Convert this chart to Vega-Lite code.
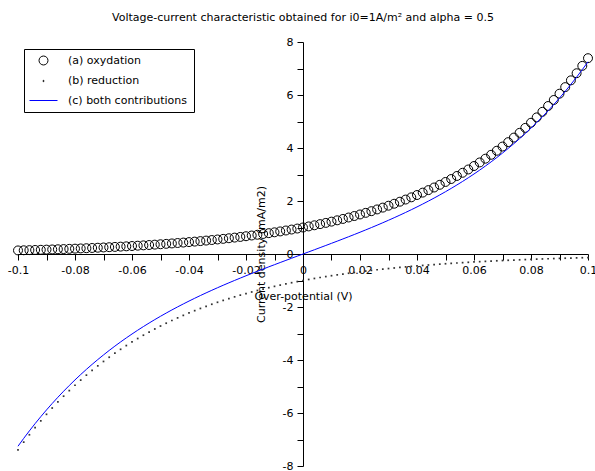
{
"$schema": "https://vega.github.io/schema/vega-lite/v6.json",
"width": 570, "height": 424,
"autosize": {"type": "none"},
"padding": {"left": 18, "top": 42, "right": 7, "bottom": 5},
"background": "white",
"title": {"text": "Voltage-current characteristic obtained for i0=1A/m² and alpha = 0.5", "font": "DejaVu Sans", "fontSize": 11, "fontWeight": "normal", "color": "black", "anchor": "middle", "offset": 13},
"config": {"view": {"stroke": null}, "font": "DejaVu Sans"},
"data": {"values": [
{"v":-0.1,"a":0.1353,"b":-7.3891,"c":-7.2538},
{"v":-0.098,"a":0.1409,"b":-7.0993,"c":-6.9584},
{"v":-0.096,"a":0.1466,"b":-6.8210,"c":-6.6744},
{"v":-0.094,"a":0.1526,"b":-6.5535,"c":-6.4009},
{"v":-0.092,"a":0.1588,"b":-6.2965,"c":-6.1377},
{"v":-0.09,"a":0.1653,"b":-6.0496,"c":-5.8843},
{"v":-0.088,"a":0.1720,"b":-5.8124,"c":-5.6404},
{"v":-0.086,"a":0.1791,"b":-5.5845,"c":-5.4054},
{"v":-0.084,"a":0.1864,"b":-5.3656,"c":-5.1792},
{"v":-0.082,"a":0.1940,"b":-5.1552,"c":-4.9612},
{"v":-0.08,"a":0.2019,"b":-4.9530,"c":-4.7511},
{"v":-0.078,"a":0.2101,"b":-4.7588,"c":-4.5487},
{"v":-0.076,"a":0.2187,"b":-4.5722,"c":-4.3535},
{"v":-0.074,"a":0.2276,"b":-4.3929,"c":-4.1653},
{"v":-0.072,"a":0.2369,"b":-4.2207,"c":-3.9838},
{"v":-0.07,"a":0.2466,"b":-4.0552,"c":-3.8086},
{"v":-0.068,"a":0.2567,"b":-3.8962,"c":-3.6395},
{"v":-0.066,"a":0.2671,"b":-3.7434,"c":-3.4763},
{"v":-0.064,"a":0.2780,"b":-3.5966,"c":-3.3186},
{"v":-0.062,"a":0.2894,"b":-3.4556,"c":-3.1662},
{"v":-0.06,"a":0.3012,"b":-3.3201,"c":-3.0189},
{"v":-0.058,"a":0.3135,"b":-3.1899,"c":-2.8764},
{"v":-0.056,"a":0.3263,"b":-3.0649,"c":-2.7386},
{"v":-0.054,"a":0.3396,"b":-2.9447,"c":-2.6051},
{"v":-0.052,"a":0.3535,"b":-2.8292,"c":-2.4757},
{"v":-0.05,"a":0.3679,"b":-2.7183,"c":-2.3504},
{"v":-0.048,"a":0.3829,"b":-2.6117,"c":-2.2288},
{"v":-0.046,"a":0.3985,"b":-2.5093,"c":-2.1108},
{"v":-0.044,"a":0.4148,"b":-2.4109,"c":-1.9961},
{"v":-0.042,"a":0.4317,"b":-2.3164,"c":-1.8847},
{"v":-0.04,"a":0.4493,"b":-2.2255,"c":-1.7762},
{"v":-0.038,"a":0.4677,"b":-2.1383,"c":-1.6706},
{"v":-0.036,"a":0.4868,"b":-2.0544,"c":-1.5676},
{"v":-0.034,"a":0.5066,"b":-1.9739,"c":-1.4673},
{"v":-0.032,"a":0.5273,"b":-1.8965,"c":-1.3692},
{"v":-0.03,"a":0.5488,"b":-1.8221,"c":-1.2733},
{"v":-0.028,"a":0.5712,"b":-1.7507,"c":-1.1795},
{"v":-0.026,"a":0.5945,"b":-1.6820,"c":-1.0875},
{"v":-0.024,"a":0.6188,"b":-1.6161,"c":-0.9973},
{"v":-0.022,"a":0.6440,"b":-1.5527,"c":-0.9087},
{"v":-0.02,"a":0.6703,"b":-1.4918,"c":-0.8215},
{"v":-0.018,"a":0.6977,"b":-1.4333,"c":-0.7356},
{"v":-0.016,"a":0.7261,"b":-1.3771,"c":-0.6510},
{"v":-0.014,"a":0.7558,"b":-1.3231,"c":-0.5673},
{"v":-0.012,"a":0.7866,"b":-1.2712,"c":-0.4846},
{"v":-0.01,"a":0.8187,"b":-1.2214,"c":-0.4027},
{"v":-0.008,"a":0.8521,"b":-1.1735,"c":-0.3214},
{"v":-0.006,"a":0.8869,"b":-1.1275,"c":-0.2406},
{"v":-0.004,"a":0.9231,"b":-1.0833,"c":-0.1602},
{"v":-0.002,"a":0.9608,"b":-1.0408,"c":-0.0800},
{"v":0,"a":1,"b":-1,"c":0},
{"v":0.002,"a":1.0408,"b":-0.9608,"c":0.0800},
{"v":0.004,"a":1.0833,"b":-0.9231,"c":0.1602},
{"v":0.006,"a":1.1275,"b":-0.8869,"c":0.2406},
{"v":0.008,"a":1.1735,"b":-0.8521,"c":0.3214},
{"v":0.01,"a":1.2214,"b":-0.8187,"c":0.4027},
{"v":0.012,"a":1.2712,"b":-0.7866,"c":0.4846},
{"v":0.014,"a":1.3231,"b":-0.7558,"c":0.5673},
{"v":0.016,"a":1.3771,"b":-0.7261,"c":0.6510},
{"v":0.018,"a":1.4333,"b":-0.6977,"c":0.7356},
{"v":0.02,"a":1.4918,"b":-0.6703,"c":0.8215},
{"v":0.022,"a":1.5527,"b":-0.6440,"c":0.9087},
{"v":0.024,"a":1.6161,"b":-0.6188,"c":0.9973},
{"v":0.026,"a":1.6820,"b":-0.5945,"c":1.0875},
{"v":0.028,"a":1.7507,"b":-0.5712,"c":1.1795},
{"v":0.03,"a":1.8221,"b":-0.5488,"c":1.2733},
{"v":0.032,"a":1.8965,"b":-0.5273,"c":1.3692},
{"v":0.034,"a":1.9739,"b":-0.5066,"c":1.4673},
{"v":0.036,"a":2.0544,"b":-0.4868,"c":1.5676},
{"v":0.038,"a":2.1383,"b":-0.4677,"c":1.6706},
{"v":0.04,"a":2.2255,"b":-0.4493,"c":1.7762},
{"v":0.042,"a":2.3164,"b":-0.4317,"c":1.8847},
{"v":0.044,"a":2.4109,"b":-0.4148,"c":1.9961},
{"v":0.046,"a":2.5093,"b":-0.3985,"c":2.1108},
{"v":0.048,"a":2.6117,"b":-0.3829,"c":2.2288},
{"v":0.05,"a":2.7183,"b":-0.3679,"c":2.3504},
{"v":0.052,"a":2.8292,"b":-0.3535,"c":2.4757},
{"v":0.054,"a":2.9447,"b":-0.3396,"c":2.6051},
{"v":0.056,"a":3.0649,"b":-0.3263,"c":2.7386},
{"v":0.058,"a":3.1899,"b":-0.3135,"c":2.8764},
{"v":0.06,"a":3.3201,"b":-0.3012,"c":3.0189},
{"v":0.062,"a":3.4556,"b":-0.2894,"c":3.1662},
{"v":0.064,"a":3.5966,"b":-0.2780,"c":3.3186},
{"v":0.066,"a":3.7434,"b":-0.2671,"c":3.4763},
{"v":0.068,"a":3.8962,"b":-0.2567,"c":3.6395},
{"v":0.07,"a":4.0552,"b":-0.2466,"c":3.8086},
{"v":0.072,"a":4.2207,"b":-0.2369,"c":3.9838},
{"v":0.074,"a":4.3929,"b":-0.2276,"c":4.1653},
{"v":0.076,"a":4.5722,"b":-0.2187,"c":4.3535},
{"v":0.078,"a":4.7588,"b":-0.2101,"c":4.5487},
{"v":0.08,"a":4.9530,"b":-0.2019,"c":4.7511},
{"v":0.082,"a":5.1552,"b":-0.1940,"c":4.9612},
{"v":0.084,"a":5.3656,"b":-0.1864,"c":5.1792},
{"v":0.086,"a":5.5845,"b":-0.1791,"c":5.4054},
{"v":0.088,"a":5.8124,"b":-0.1720,"c":5.6404},
{"v":0.09,"a":6.0496,"b":-0.1653,"c":5.8843},
{"v":0.092,"a":6.2965,"b":-0.1588,"c":6.1377},
{"v":0.094,"a":6.5535,"b":-0.1526,"c":6.4009},
{"v":0.096,"a":6.8210,"b":-0.1466,"c":6.6744},
{"v":0.098,"a":7.0993,"b":-0.1409,"c":6.9584},
{"v":0.1,"a":7.3891,"b":-0.1353,"c":7.2538}
]},
"encoding": {
  "x": {"field": "v", "type": "quantitative",
    "scale": {"domain": [-0.1, 0.1], "nice": false, "zero": false},
    "axis": {"orient": "bottom", "offset": -212, "title": "Over-potential (V)",
      "values": [-0.1,-0.09,-0.08,-0.07,-0.06,-0.05,-0.04,-0.03,-0.02,-0.01,0,0.01,0.02,0.03,0.04,0.05,0.06,0.07,0.08,0.09,0.1],
      "labelExpr": "abs(round(datum.value*100)) % 2 == 1 ? '' : (datum.value == 0 ? '0' : '' + datum.value)",
      "grid": false, "tickSize": 6, "labelPadding": 4, "titlePadding": 15,
      "labelOverlap": false, "labelFlush": false, "labelBound": false,
      "domainColor": "black", "tickColor": "black", "labelColor": "black", "titleColor": "black",
      "labelFont": "DejaVu Sans", "titleFont": "DejaVu Sans", "labelFontSize": 11, "titleFontSize": 11, "titleFontWeight": "normal"}
  },
  "y": {"type": "quantitative", "scale": {"domain": [-8, 8], "nice": false, "zero": false},
    "axis": {"orient": "left", "offset": -285, "title": "Current density (mA/m2)",
      "values": [-8,-7,-6,-5,-4,-3,-2,-1,0,1,2,3,4,5,6,7,8],
      "labelExpr": "abs(datum.value) % 2 == 1 ? '' : '' + datum.value",
      "grid": false, "tickSize": 6, "labelPadding": 4, "titlePadding": 16,
      "labelOverlap": false, "labelFlush": false, "labelBound": false,
      "domainColor": "black", "tickColor": "black", "labelColor": "black", "titleColor": "black",
      "labelFont": "DejaVu Sans", "titleFont": "DejaVu Sans", "labelFontSize": 11, "titleFontSize": 11, "titleFontWeight": "normal"}},
  "stroke": {"type": "nominal",
    "scale": {"domain": ["(a) oxydation", "(b) reduction", "(c) both contributions"], "range": ["black", "black", "#0000ff"]},
    "legend": {"title": null, "orient": "none", "legendX": 6, "legendY": 7, "strokeColor": "black", "fillColor": "white", "padding": 6, "cornerRadius": 0,
      "labelFont": "DejaVu Sans", "labelFontSize": 11, "labelColor": "black", "symbolSize": 100, "symbolOffset": 8, "labelOffset": 19, "rowPadding": 7.5,
      "encode": {"symbols": {"update": {
        "shape": {"signal": "datum.value === '(c) both contributions' ? 'stroke' : 'circle'"},
        "size": {"signal": "datum.value === '(c) both contributions' ? 784 : (datum.value === '(b) reduction' ? 2 : 80)"},
        "fill": {"signal": "datum.value === '(b) reduction' ? 'black' : 'transparent'"},
        "strokeWidth": {"signal": "datum.value === '(b) reduction' ? 0.5 : 1"},
        "opacity": {"value": 1}
      }}}}
  }
},
"layer": [
  {
    "mark": {"type": "point", "shape": "circle", "filled": false, "fill": "transparent", "size": 80, "strokeWidth": 1, "opacity": 1},
    "encoding": {"y": {"field": "a"}, "stroke": {"datum": "(a) oxydation"}}
  },
  {
    "mark": {"type": "point", "shape": "square", "filled": true, "fill": "#333333", "size": 3, "strokeWidth": 0, "opacity": 1},
    "encoding": {"y": {"field": "b"}, "stroke": {"datum": "(b) reduction"}}
  },
  {
    "mark": {"type": "line", "strokeWidth": 1},
    "encoding": {"y": {"field": "c"}, "stroke": {"datum": "(c) both contributions"}}
  }
]
}
